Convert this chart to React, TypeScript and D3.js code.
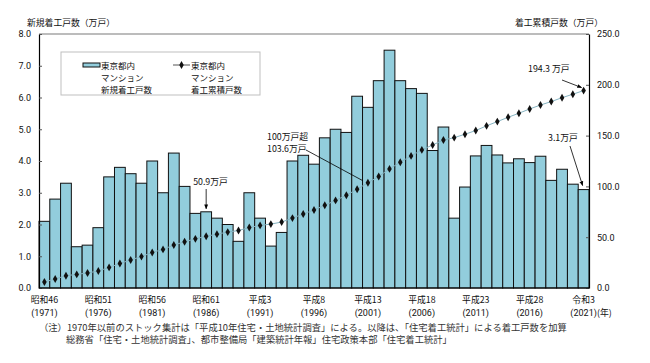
import * as d3 from "d3";

// 東京都内マンション 新規着工戸数（万戸）
const years = d3.range(1971, 2022);
const newStarts = [
  2.1, 2.8, 3.3, 1.3, 1.35, 1.9, 3.5, 3.8, 3.6, 3.3,
  4.0, 3.0, 4.25, 3.2, 2.35, 2.4, 2.2, 2.0, 1.47, 3.0,
  2.2, 1.32, 1.75, 4.0, 4.18, 3.9, 4.73, 5.0, 4.9, 6.04,
  5.69, 6.53, 7.49, 6.53, 6.28, 6.13, 4.33, 5.07, 2.2, 3.18,
  4.16, 4.49, 4.19, 3.94, 4.07, 3.95, 4.15, 3.39, 3.74, 3.27,
  3.1,
];
// 着工累積戸数（万戸）
const cumulative = [
  5.9, 8.9, 12.1, 13.4, 14.8, 16.7, 20.3, 24.1, 27.6, 30.9,
  35.0, 38.0, 42.3, 45.5, 48.4, 50.9, 53.0, 55.0, 56.6, 59.5,
  61.6, 62.9, 64.9, 68.8, 72.8, 76.8, 81.4, 86.2, 91.3, 97.2,
  103.6, 109.8, 117.2, 123.8, 130.0, 135.9, 140.8, 145.6, 148.0, 151.3,
  155.0, 159.6, 163.8, 168.0, 172.0, 176.2, 180.1, 183.5, 187.3, 190.7,
  194.3,
];
const tickYears = [1971, 1976, 1981, 1986, 1991, 1996, 2001, 2006, 2011, 2016, 2021];
const eraLabels = ["昭和46", "昭和51", "昭和56", "昭和61", "平成3", "平成8", "平成13", "平成18", "平成23", "平成28", "令和3"];
const leftTicks = [0, 1, 2, 3, 4, 5, 6, 7, 8];
const rightTicks = [0, 50, 100, 150, 200, 250];

const W = 650;
const H = 363;
const left = 39;
const right = 589;
const top = 34;
const bottom = 288;
const font = "'Noto Sans CJK JP', 'Noto Sans', sans-serif";
const latin = "Roboto, 'Noto Sans CJK JP', sans-serif";
const barFill = "#92cddc";

export default function App() {
  const x = d3.scaleBand<number>().domain(years).range([left, right]).padding(0);
  const yL = d3.scaleLinear([0, 8], [bottom, top]);
  const yR = d3.scaleLinear([0, 250], [bottom, top]);
  const cx = (yr: number) => (x(yr) ?? 0) + x.bandwidth() / 2;

  const line = d3.line<number>((d, i) => cx(years[i]), (d) => yR(d));
  const diamond = d3.symbol(d3.symbolDiamond, 18)() || "";

  const yAxisL = d3.axisLeft(yL).tickValues(leftTicks).tickSize(-3).tickSizeOuter(0).tickPadding(8).tickFormat(d3.format(".1f"));
  const yAxisR = d3.axisRight(yR).tickValues(rightTicks).tickSize(-3).tickSizeOuter(0).tickPadding(8).tickFormat(d3.format(".1f"));

  const styleAxis = (node: SVGGElement | null, axis: any) => {
    if (!node) return;
    const g = d3.select(node);
    g.selectAll("*").remove();
    g.call(axis);
    g.attr("font-family", latin).attr("font-size", 9);
    g.selectAll("text").attr("fill", "#111");
    g.select(".domain").attr("stroke", "#000").attr("stroke-width", 1.2);
    g.selectAll(".tick line").attr("stroke", "#555");
  };

  // 1986年・2001年・2021年の注記位置
  const x1986 = cx(1986);
  const x2001 = cx(2001);
  const x2021 = cx(2021);

  return (
    <div style={{ position: "absolute", left: 0, top: 0 }}>
      <svg width={W} height={H} fontFamily={font}>
        <defs>
          <marker id="arr" viewBox="0 0 10 10" refX="9" refY="5" markerWidth="6" markerHeight="6" orient="auto">
            <path d="M0,1 L10,5 L0,9 z" fill="#000" />
          </marker>
        </defs>
        <rect width={W} height={H} fill="#fff" />

        {/* axis titles */}
        <text x={27} y={26} fontSize={8.8} fill="#111">新規着工戸数（万戸）</text>
        <text x={603} y={26} fontSize={8.8} fill="#111" textAnchor="end">着工累積戸数（万戸）</text>

        {/* frame top */}
        <line x1={left} x2={right} y1={top} y2={top} stroke="#a6a6a6" strokeWidth={1.5} />

        {/* bars */}
        <g>
          {years.map((yr, i) => (
            <rect
              key={yr}
              x={x(yr)}
              y={yL(newStarts[i])}
              width={x.bandwidth()}
              height={bottom - yL(newStarts[i])}
              fill={barFill}
              stroke="#111"
              strokeWidth={1}
            />
          ))}
        </g>

        {/* cumulative line */}
        <path d={line(cumulative) || undefined} fill="none" stroke="#86b4c2" strokeWidth={1} />
        <g fill="#111">
          {cumulative.map((d, i) => (
            <path key={i} d={diamond} transform={`translate(${cx(years[i])},${yR(d)})`} />
          ))}
        </g>

        {/* axes */}
        <g transform={`translate(${left},0)`} ref={(node) => styleAxis(node, yAxisL)} />
        <g transform={`translate(${right},0)`} ref={(node) => styleAxis(node, yAxisR)} />
        <line x1={left} x2={right} y1={bottom} y2={bottom} stroke="#000" strokeWidth={1.2} />

        {/* x labels */}
        <g fill="#111" textAnchor="middle">
          {tickYears.map((yr, i) => (
            <g key={yr}>
              <text x={cx(yr)} y={303} fontSize={8.8}>{eraLabels[i]}</text>
              <text x={cx(yr)} y={315.5} fontSize={9} fontFamily={latin}>({yr})</text>
            </g>
          ))}
        </g>
        <text x={597} y={316} fontSize={8.8} fill="#111">(年)</text>

        {/* legend */}
        <g>
          <rect x={61} y={52} width={199} height={43} fill="#fff" stroke="#bfbfbf" strokeWidth={1} />
          <rect x={83} y={63} width={17} height={4} fill={barFill} stroke="#111" strokeWidth={1} />
          <g fontSize={8.5} fill="#111">
            <text x={101} y={68.5}>東京都内</text>
            <text x={101} y={80.5}>マンション</text>
            <text x={101} y={92.5}>新規着工戸数</text>
            <text x={191} y={68.5}>東京都内</text>
            <text x={191} y={80.5}>マンション</text>
            <text x={191} y={92.5}>着工累積戸数</text>
          </g>
          <line x1={173} x2={190} y1={65} y2={65} stroke="#555" strokeWidth={1} />
          <path d={diamond} transform="translate(181.5,65)" fill="#111" />
        </g>

        {/* annotations */}
        <g fontSize={8.8} fill="#111">
          <text x={x1986 - 13} y={185}>50.9万戸</text>
          <line x1={x1986} x2={x1986} y1={189} y2={yL(newStarts[15]) - 3} stroke="#000" strokeWidth={0.8} markerEnd="url(#arr)" />

          <text x={267} y={140}>100万戸超</text>
          <text x={267} y={152}>103.6万戸</text>
          <line x1={306} y1={150} x2={x2001 - 5} y2={yR(cumulative[30]) - 2} stroke="#000" strokeWidth={0.8} />

          <text x={528} y={72}>194.3 万戸</text>
          <line x1={562} y1={80} x2={x2021 - 2} y2={yR(cumulative[50]) - 3} stroke="#000" strokeWidth={0.8} markerEnd="url(#arr)" />

          <text x={548} y={141}>3.1万戸</text>
          <line x1={570} y1={146} x2={x2021 - 1} y2={yL(newStarts[50]) - 4} stroke="#000" strokeWidth={0.8} markerEnd="url(#arr)" />
        </g>

        {/* note */}
        <g fontSize={9.3} fill="#333">
          <text x={39} y={330.5}>（注）1970年以前のストック集計は「平成10年住宅・土地統計調査」による。以降は、「住宅着工統計」による着工戸数を加算</text>
          <text x={66} y={343}>総務省「住宅・土地統計調査」、都市整備局「建築統計年報」住宅政策本部「住宅着工統計」</text>
        </g>
      </svg>
    </div>
  );
}
